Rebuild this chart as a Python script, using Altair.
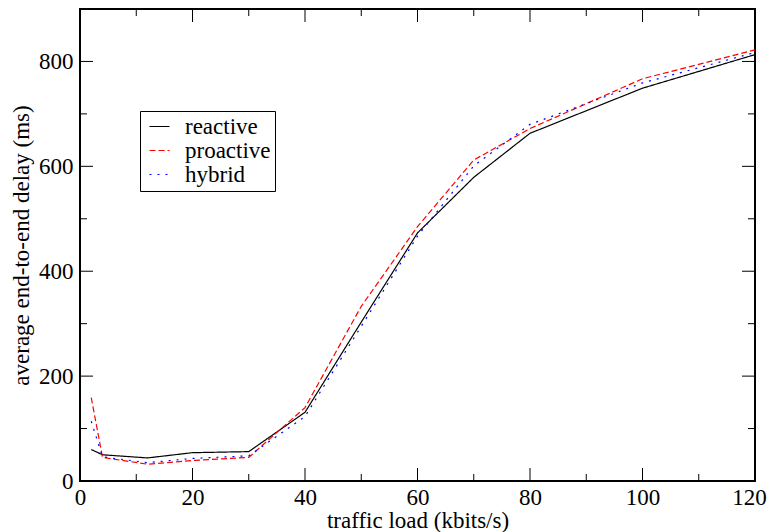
import altair as alt
import pandas as pd

# ---- data ----
load = [2, 4, 12, 20, 30, 40, 50, 60, 70, 80, 100, 120]
reactive = [60, 50, 44, 54, 56, 131, 303, 473, 579, 663, 749, 813]
proactive = [159, 45, 32, 39, 45, 140, 333, 485, 612, 672, 767, 822]
hybrid = [114, 46, 35, 43, 48, 123, 295, 467, 601, 680, 759, 817]

series_names = ["reactive", "proactive", "hybrid"]
series_colors = ["#000000", "#ff0000", "#0000ff"]
series_dashes = [[1, 0], [6, 3], [2, 6]]
series_widths = [1.2, 1.2, 2.5]

x_labels = [0, 20, 40, 60, 80, 100, 120]
y_labels = [0, 200, 400, 600, 800]
x_major = [20, 40, 60, 80, 100]
x_minor = [10, 30, 50, 70, 90, 110]
y_major = [200, 400, 600, 800]
y_minor = [100, 300, 500, 700]

W, H = 675, 472
MAJ, MIN = 13, 7
FONT = "Liberation Serif, Times New Roman, Times, serif"

# the series column is called "value" so that the merged legend's symbols
# look up the same field as the legend entries
rows = []
for name, vals in zip(series_names, [reactive, proactive, hybrid]):
    for xv, yv in zip(load, vals):
        rows.append({"load": xv, "delay": yv, "value": name})
df = pd.DataFrame(rows)

xs = alt.Scale(domain=[0, 120], nice=False, zero=False)
ys = alt.Scale(domain=[0, 900], nice=False, zero=False)

x_axis = alt.Axis(values=x_labels, title="traffic load (kbits/s)",
                  labelPadding=5, titlePadding=0, labelFlush=False, labelOverlap=False,
                  labelOffset={"condition": {"test": "datum.value >= 120", "value": -6},
                               "value": 0})
y_axis = alt.Axis(values=y_labels, title="average end-to-end delay (ms)",
                  labelPadding=7, titlePadding=5, labelFlush=False, labelOverlap=False)

lines = alt.Chart(df).mark_line(strokeCap="butt").encode(
    x=alt.X("load:Q", scale=xs, axis=x_axis, title="traffic load (kbits/s)"),
    y=alt.Y("delay:Q", scale=ys, axis=y_axis, title="average end-to-end delay (ms)"),
    color=alt.Color("value:N",
                    scale=alt.Scale(domain=series_names, range=series_colors),
                    legend=alt.Legend(title=None)),
    strokeDash=alt.StrokeDash("value:N",
                              scale=alt.Scale(domain=series_names, range=series_dashes),
                              legend=alt.Legend(title=None)),
    strokeWidth=alt.StrokeWidth("value:N",
                                scale=alt.Scale(domain=series_names, range=series_widths),
                                legend=None),
)


def ticks(vals, side, length):
    d = pd.DataFrame({"load": vals, "delay": vals})
    base = alt.Chart(d).mark_rule(color="black", strokeWidth=1)
    if side == "bottom":
        enc = dict(x=alt.X("load:Q", scale=xs, axis=x_axis, title="traffic load (kbits/s)"),
                   y=alt.value(H), y2=alt.value(H - length))
    elif side == "top":
        enc = dict(x=alt.X("load:Q", scale=xs, axis=x_axis, title="traffic load (kbits/s)"),
                   y=alt.value(0), y2=alt.value(length))
    elif side == "left":
        enc = dict(y=alt.Y("delay:Q", scale=ys, axis=y_axis, title="average end-to-end delay (ms)"),
                   x=alt.value(0), x2=alt.value(length))
    else:
        enc = dict(y=alt.Y("delay:Q", scale=ys, axis=y_axis, title="average end-to-end delay (ms)"),
                   x=alt.value(W), x2=alt.value(W - length))
    return base.encode(**enc)


tick_layers = [
    ticks(x_major, "bottom", MAJ), ticks(x_minor, "bottom", MIN),
    ticks(x_major, "top", MAJ), ticks(x_minor, "top", MIN),
    ticks(y_major, "left", MAJ), ticks(y_minor, "left", MIN),
    ticks(y_major, "right", MAJ), ticks(y_minor, "right", MIN),
]

chart = alt.layer(lines, *tick_layers).properties(
    width=W, height=H,
    autosize=alt.AutoSizeParams(type="none"),
    padding={"left": 72, "top": 1, "right": 12, "bottom": 51},
).configure_view(
    stroke="black", strokeWidth=2
).configure_axis(
    grid=False, ticks=False, domain=False,
    labelFont=FONT, labelFontSize=23, labelColor="black",
    titleFont=FONT, titleFontSize=23, titleColor="black", titleFontWeight="normal",
).configure_legend(
    orient="none", legendX=60, legendY=102,
    labelFont=FONT, labelFontSize=23, labelColor="black",
    symbolType="stroke", symbolSize=400, symbolStrokeWidth=1.5,
    labelOffset=14, rowPadding=0, padding=4, symbolOffset=4,
    strokeColor="black", fillColor="white",
)

chart.save("out.html", embed_options={"renderer": "svg", "actions": False})
